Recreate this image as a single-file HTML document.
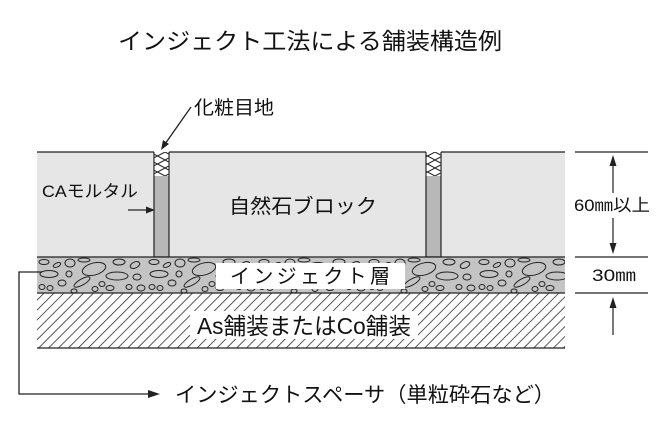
<!DOCTYPE html>
<html><head><meta charset="utf-8"><style>
html,body{margin:0;padding:0;background:#fff}
svg{display:block}
text{font-family:"Liberation Sans","Noto Sans CJK JP",sans-serif;fill:#111}
</style></head><body>
<svg width="670" height="424" viewBox="0 0 670 424" xmlns="http://www.w3.org/2000/svg">
<defs>
<pattern id="h" width="7" height="7" patternUnits="userSpaceOnUse" patternTransform="rotate(45)">
<rect width="7" height="7" fill="#fff"/><line x1="0" y1="0" x2="0" y2="7" stroke="#222" stroke-width="1.5"/>
</pattern>
<pattern id="p" x="37" y="257" width="110" height="36" patternUnits="userSpaceOnUse">
<rect width="110" height="36" fill="#c4c4c4"/>
<g fill="none" stroke="#222" stroke-width="1">
<ellipse cx="7" cy="5" rx="5" ry="2.5"/><ellipse cx="20" cy="8" rx="4" ry="2" transform="rotate(-25 20 8)"/>
<ellipse cx="33" cy="6" rx="5" ry="4"/><ellipse cx="47" cy="3" rx="6" ry="2"/><ellipse cx="57" cy="12" rx="12" ry="6" transform="rotate(-15 57 12)"/>
<ellipse cx="82" cy="5" rx="6" ry="3"/><ellipse cx="98" cy="8" rx="5" ry="3" transform="rotate(-25 98 8)"/>
<ellipse cx="12" cy="17" rx="9" ry="3.5"/><ellipse cx="32" cy="17" rx="3" ry="3"/><ellipse cx="80" cy="19" rx="11" ry="4"/>
<ellipse cx="100" cy="20" rx="4" ry="3"/><ellipse cx="25" cy="26" rx="4" ry="3"/><ellipse cx="45" cy="25" rx="9" ry="3" transform="rotate(-30 45 25)"/>
<ellipse cx="65" cy="27" rx="3" ry="2.5"/><ellipse cx="5" cy="30" rx="3" ry="2.5"/><ellipse cx="13" cy="31" rx="3" ry="2.5"/>
<ellipse cx="37" cy="34" rx="3" ry="2"/><ellipse cx="58" cy="32" rx="3" ry="2.5"/><ellipse cx="73" cy="31" rx="4" ry="2.5"/>
<ellipse cx="92" cy="30" rx="3" ry="2.5"/><ellipse cx="104" cy="31" rx="4" ry="3"/>
</g></pattern>
<pattern id="x" width="15" height="8" patternUnits="userSpaceOnUse">
<rect width="15" height="8" fill="#fff"/><path d="M0 0L15 8M15 0L0 8" stroke="#222" stroke-width="1"/>
</pattern>
</defs>
<text x="310" y="49" font-size="23" text-anchor="middle" textLength="384" lengthAdjust="spacingAndGlyphs">インジェクト工法による舗装構造例</text>
<rect x="37" y="152" width="528" height="105" fill="#e6e6e6"/>
<rect x="154" y="152" width="15" height="105" fill="#b8b8b8" stroke="#222" stroke-width="1.2"/>
<rect x="154.6" y="152" width="13.8" height="24" fill="url(#x)"/>
<rect x="426" y="152" width="15" height="105" fill="#b8b8b8" stroke="#222" stroke-width="1.2"/>
<rect x="426.6" y="152" width="13.8" height="24" fill="url(#x)"/>
<rect x="37" y="150" width="528" height="2" fill="#fff"/>
<line x1="37" y1="152" x2="154" y2="152" stroke="#222" stroke-width="1.2"/>
<line x1="169" y1="152" x2="426" y2="152" stroke="#222" stroke-width="1.2"/>
<line x1="441" y1="152" x2="565" y2="152" stroke="#222" stroke-width="1.2"/>
<rect x="37" y="257" width="528" height="36" fill="url(#p)"/>
<line x1="37" y1="257" x2="565" y2="257" stroke="#222" stroke-width="1.3"/>
<rect x="37" y="293" width="528" height="55" fill="url(#h)"/>
<line x1="37" y1="293" x2="565" y2="293" stroke="#222" stroke-width="1.3"/>
<line x1="37" y1="348" x2="565" y2="348" stroke="#222" stroke-width="1.3"/>
<rect x="216" y="263" width="189" height="26" fill="#fff"/>
<text x="310" y="283" font-size="20" text-anchor="middle" textLength="160" lengthAdjust="spacing">インジェクト層</text>
<rect x="190" y="311" width="228" height="28" fill="#fff"/>
<text x="304" y="334" font-size="23" text-anchor="middle" textLength="214" lengthAdjust="spacingAndGlyphs">As舗装またはCo舗装</text>
<text x="303" y="213" font-size="20" text-anchor="middle" textLength="148" lengthAdjust="spacingAndGlyphs">自然石ブロック</text>
<text x="42" y="197" font-size="17" textLength="96" lengthAdjust="spacingAndGlyphs">CAモルタル</text>
<line x1="128" y1="210" x2="148" y2="210" stroke="#222" stroke-width="1.3"/>
<path d="M155 210L146 206.5L146 213.5Z" fill="#222"/>
<text x="194" y="114" font-size="19" textLength="80" lengthAdjust="spacingAndGlyphs">化粧目地</text>
<line x1="191" y1="107" x2="165" y2="144" stroke="#222" stroke-width="1.3"/>
<path d="M161 150L163 140L169 144Z" fill="#222"/>
<g stroke="#222" stroke-width="1.2">
<line x1="575" y1="152" x2="648" y2="152"/><line x1="575" y1="257" x2="648" y2="257"/><line x1="575" y1="293" x2="648" y2="293"/>
<line x1="613" y1="162" x2="613" y2="193"/><line x1="613" y1="218" x2="613" y2="248"/><line x1="613" y1="305" x2="613" y2="335"/>
</g>
<path d="M613 155L609.5 166L616.5 166Z M613 254L609.5 243L616.5 243Z M613 297L609.5 308L616.5 308Z" fill="#222"/>
<text x="612" y="211" font-size="17" text-anchor="middle" textLength="76" lengthAdjust="spacingAndGlyphs">60㎜以上</text>
<text x="614" y="281" font-size="17" text-anchor="middle" textLength="44" lengthAdjust="spacingAndGlyphs">30㎜</text>
<path d="M42 272H19V394H150" fill="none" stroke="#222" stroke-width="1.3"/>
<path d="M160 394L148 390V398Z" fill="#222"/>
<text x="175" y="402" font-size="21" textLength="380" lengthAdjust="spacingAndGlyphs">インジェクトスペーサ（単粒砕石など）</text>
</svg>
</body></html>
